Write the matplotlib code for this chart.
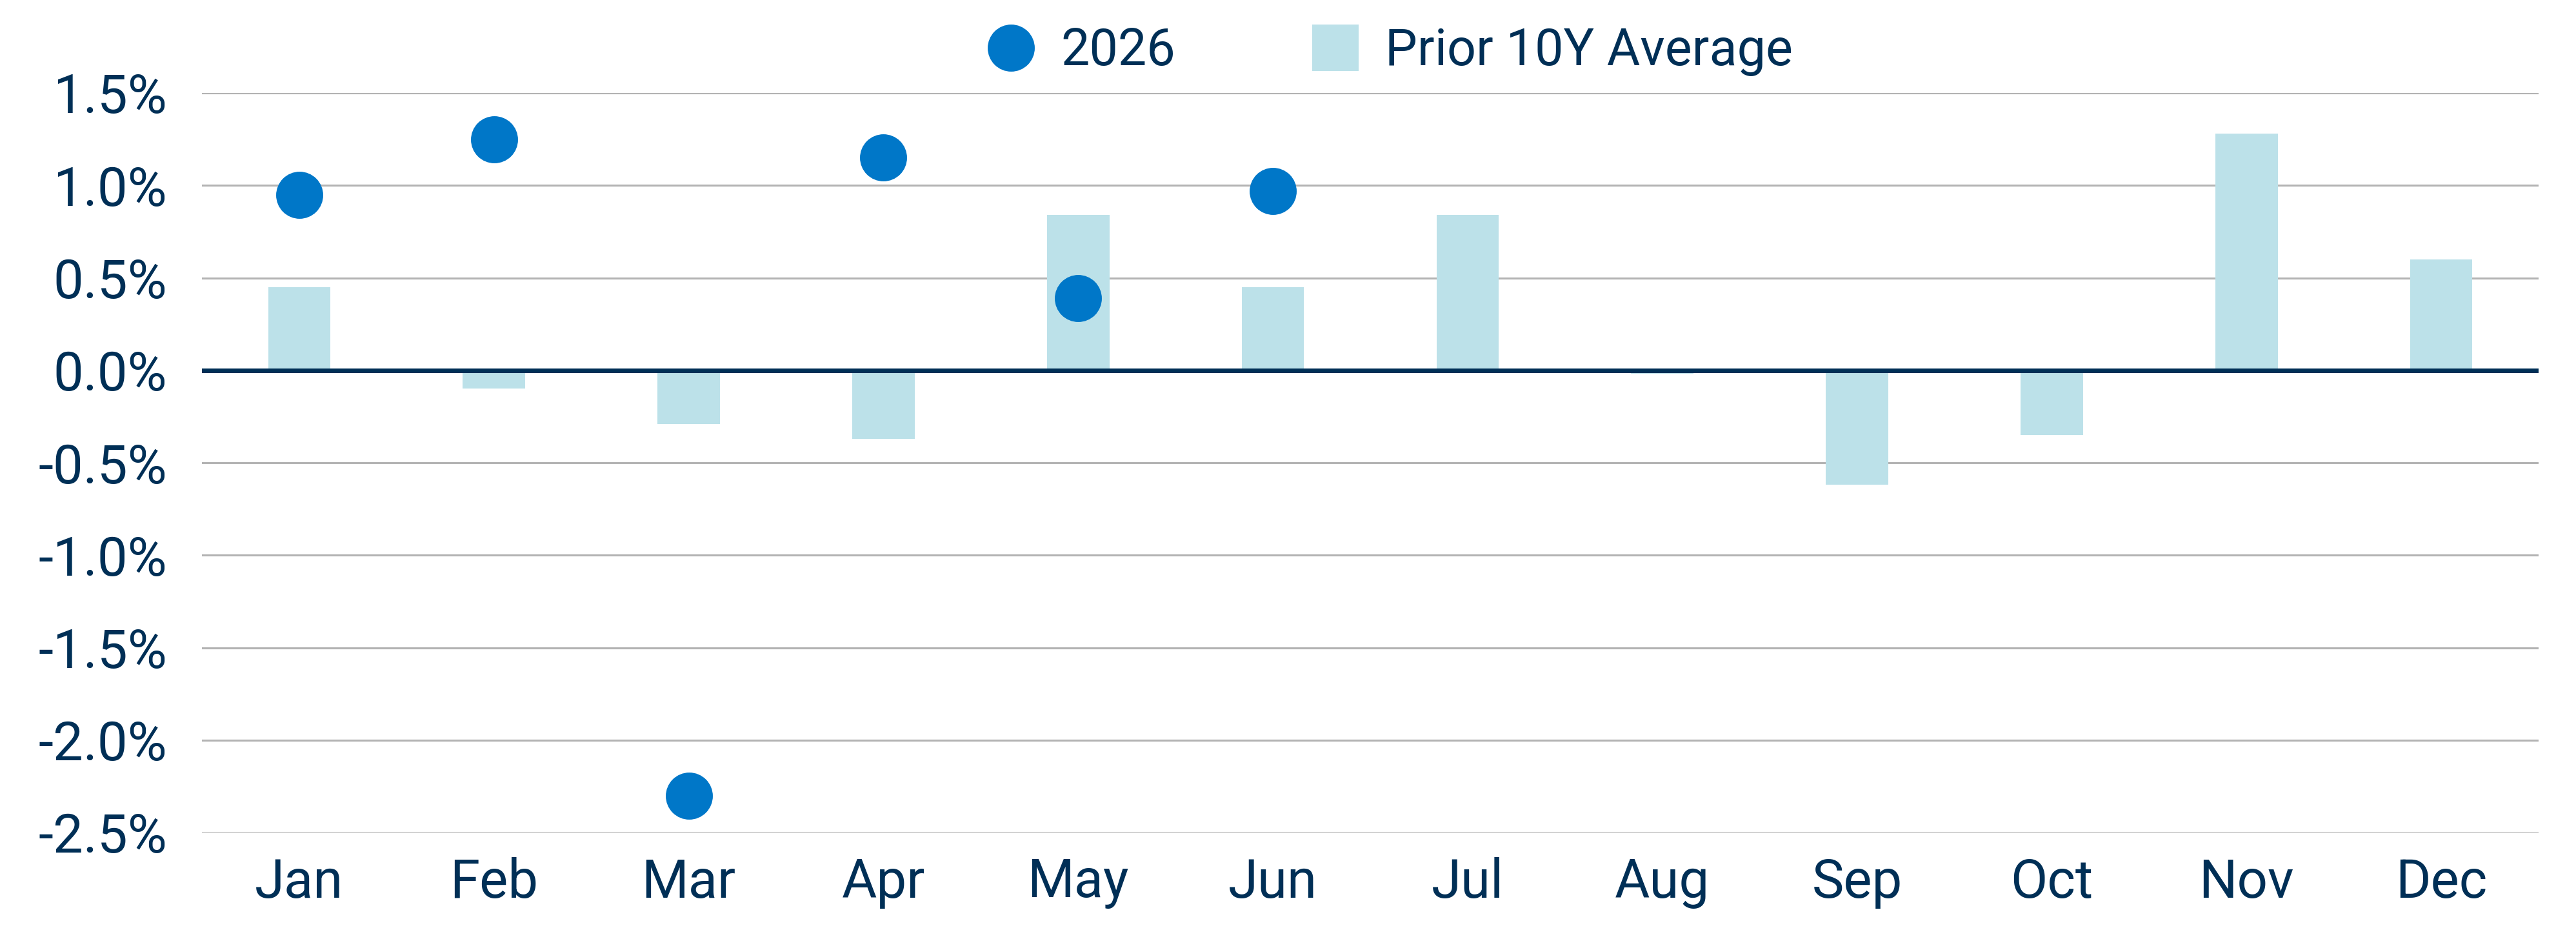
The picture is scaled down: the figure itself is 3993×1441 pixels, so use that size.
import matplotlib.pyplot as plt
from matplotlib.lines import Line2D
from matplotlib.ticker import FuncFormatter
import numpy as np

plt.rcParams['font.family'] = ['Roboto', 'DejaVu Sans']

months = ['Jan', 'Feb', 'Mar', 'Apr', 'May', 'Jun', 'Jul', 'Aug', 'Sep', 'Oct', 'Nov', 'Dec']
# prior 10Y average, %
avg_10y = [0.45, -0.10, -0.29, -0.37, 0.84, 0.45, 0.84, -0.02, -0.62, -0.35, 1.28, 0.60]
# 2026 so far, %
months_2026 = ['Jan', 'Feb', 'Mar', 'Apr', 'May', 'Jun']
vals_2026 = [0.95, 1.25, -2.30, 1.15, 0.39, 0.97]
yticks = [1.5, 1.0, 0.5, 0.0, -0.5, -1.0, -1.5, -2.0, -2.5]

navy = '#002f56'
dot_c = '#0077c8'
bar_c = '#bce1e9'
grid_c = '#b3b3b3'

fig = plt.figure(figsize=(3993/300, 1441/300), dpi=300)
ax = fig.add_axes([313/3993, 1-1290/1441, (3935-313)/3993, (1290-144)/1441])

x = np.arange(len(months))
ax.bar(x, avg_10y, width=0.32, color=bar_c, zorder=2)
x26 = [months.index(m) for m in months_2026]
ax.plot(x26, vals_2026, 'o', ls='none', color=dot_c, markersize=17.5, markeredgewidth=0, zorder=4)

ax.axhline(0, color=navy, lw=1.7, zorder=3)
ax.set_ylim(-2.5, 1.5)
ax.set_xlim(-0.5, 11.5)
ax.set_yticks(yticks)
ax.yaxis.set_major_formatter(FuncFormatter(lambda v, p: f'{v:.1f}%'))
ax.set_xticks(x)
ax.set_xticklabels(months)
ax.grid(axis='y', color=grid_c, lw=0.75, zorder=1)
ax.set_axisbelow(True)
for s in ax.spines.values():
    s.set_visible(False)
ax.tick_params(axis='both', length=0, labelsize=20, labelcolor=navy)
ax.tick_params(axis='y', pad=13)
ax.tick_params(axis='x', pad=9)

handles = [
    Line2D([], [], marker='o', ls='none', color=dot_c, markersize=17.5, markeredgewidth=0, label='2026'),
    Line2D([], [], marker='s', ls='none', color=bar_c, markersize=17.3, markeredgewidth=0, label='Prior 10Y Average'),
]
leg = fig.legend(handles=handles, loc='center', bbox_to_anchor=(0.539, 1-80/1441), ncol=2,
                 frameon=False, fontsize=19, handlelength=1.05, handletextpad=0.45,
                 columnspacing=2.6, borderaxespad=0)
for t in leg.get_texts():
    t.set_color(navy)

fig.savefig('out.png', dpi=300, facecolor='white')
